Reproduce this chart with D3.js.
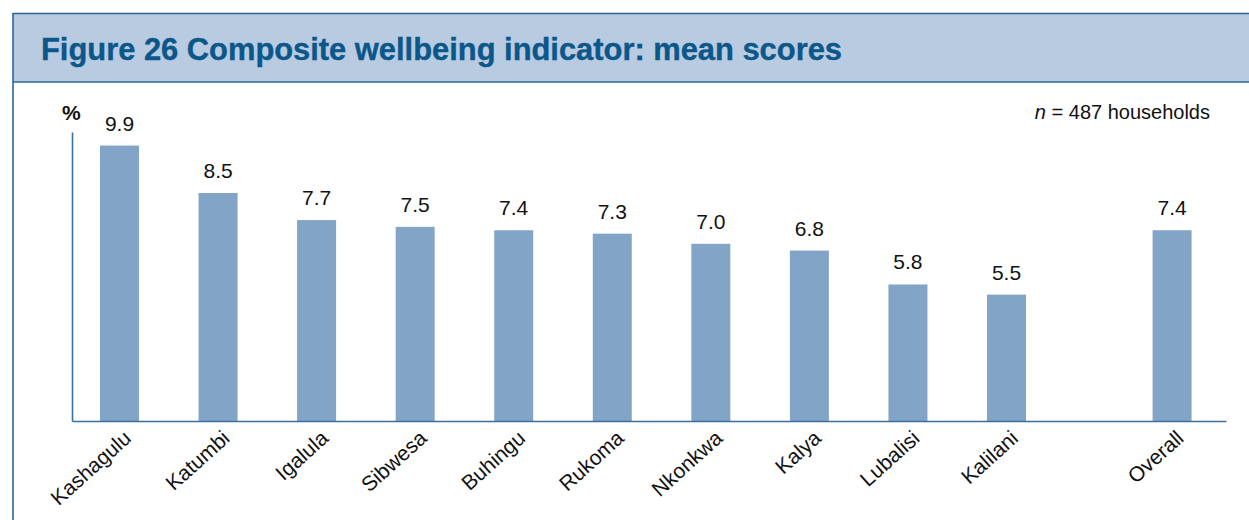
<!DOCTYPE html>
<html><head><meta charset="utf-8">
<script src="https://cdn.jsdelivr.net/npm/d3@7"></script>
<style>body{margin:0;background:#fff;} svg{display:block;}</style>
</head><body><svg id="c" width="1249" height="520"></svg>
<script>
// ---- data ----
const categories = ["Kashagulu","Katumbi","Igalula","Sibwesa","Buhingu","Rukoma","Nkonkwa","Kalya","Lubalisi","Kalilani"];
const values = [9.9, 8.5, 7.7, 7.5, 7.4, 7.3, 7.0, 6.8, 5.8, 5.5];
const overallLabel = "Overall";
const overallValue = 7.4;
const titleText = "Figure 26 Composite wellbeing indicator: mean scores";
const unitLabel = "%";
const sampleSize = 487;

// ---- layout ----
const W = 1249, H = 520;
const axisX = 72, axisTop = 132, axisBottom = 421, axisRight = 1226;
const overallGap = 1.68;   // extra spacing (in steps) before the Overall bar
const barW = 39;
const svg = d3.select("#c");
const FONT = "'Liberation Sans',Arial,Helvetica,sans-serif";

const rows = categories.map((c, i) => ({cat: c, value: values[i], pos: i}))
  .concat([{cat: overallLabel, value: overallValue, pos: categories.length - 1 + overallGap}]);

const x = d3.scaleLinear().domain([0, categories.length - 1]).range([119.5, 1006.5]);
const y = d3.scaleLinear().domain([1.77, 10.3]).range([axisBottom, axisTop]);

// title bar
svg.append("rect").attr("x", 13).attr("y", 13.5).attr("width", W).attr("height", 68.5)
  .attr("fill", "#b9cbe1");
svg.append("line").attr("x1", 13).attr("x2", W).attr("y1", 13.5).attr("y2", 13.5)
  .attr("stroke", "#2b6596").attr("stroke-width", 1.6);
svg.append("line").attr("x1", 13).attr("x2", W).attr("y1", 82).attr("y2", 82)
  .attr("stroke", "#2b6596").attr("stroke-width", 1.6);
svg.append("line").attr("x1", 13).attr("x2", 13).attr("y1", 13).attr("y2", H)
  .attr("stroke", "#2b6596").attr("stroke-width", 1.6);

svg.append("text").attr("x", 41).attr("y", 60)
  .attr("font-family", "'Liberation Sans Narrow','Arial Narrow','Liberation Sans',Arial,sans-serif")
  .attr("font-weight", "bold").attr("font-size", 31)
  .attr("fill", "#0c578a").attr("stroke", "#0c578a").attr("stroke-width", 0.4)
  .attr("textLength", 801).attr("lengthAdjust", "spacingAndGlyphs")
  .text(titleText);

// unit label
svg.append("text").attr("x", 62).attr("y", 120)
  .attr("font-family", FONT).attr("font-weight", "bold")
  .attr("font-size", 21).attr("fill", "#111").text(unitLabel);

// sample note
const note = svg.append("text").attr("x", 1210).attr("y", 119).attr("text-anchor", "end")
  .attr("font-family", FONT).attr("font-size", 20).attr("fill", "#111");
note.append("tspan").attr("font-style", "italic").text("n");
note.append("tspan").text(" = " + sampleSize + " households");

// bars
svg.append("g").selectAll("rect").data(rows).join("rect")
  .attr("x", d => x(d.pos) - barW / 2)
  .attr("width", barW)
  .attr("y", d => y(d.value))
  .attr("height", d => axisBottom - y(d.value))
  .attr("fill", "#82a4c7");

// axes
const yAxis = d3.axisLeft(y).tickValues([]).tickSizeOuter(0);
const gy = svg.append("g").attr("transform", `translate(${axisX},0)`).call(yAxis);
const xAxisScale = d3.scaleLinear().domain([0, 1]).range([axisX, axisRight]);
const gx = svg.append("g").attr("transform", `translate(0,${axisBottom})`)
  .call(d3.axisBottom(xAxisScale).tickValues([]).tickSizeOuter(0));
svg.selectAll(".domain").attr("stroke", "#3c709c").attr("stroke-width", 1.6);

// value labels
svg.append("g").selectAll("text").data(rows).join("text")
  .attr("x", d => x(d.pos))
  .attr("y", d => y(d.value) - 15)
  .attr("text-anchor", "middle")
  .attr("font-family", FONT).attr("font-size", 21)
  .attr("fill", "#111")
  .text(d => d.value.toFixed(1));

// category labels
svg.append("g").selectAll("text").data(rows).join("text")
  .attr("transform", d => `translate(${x(d.pos) + 13},${440}) rotate(-42)`)
  .attr("text-anchor", "end")
  .attr("font-family", FONT).attr("font-size", 21)
  .attr("fill", "#111")
  .text(d => d.cat);
</script></body></html>
